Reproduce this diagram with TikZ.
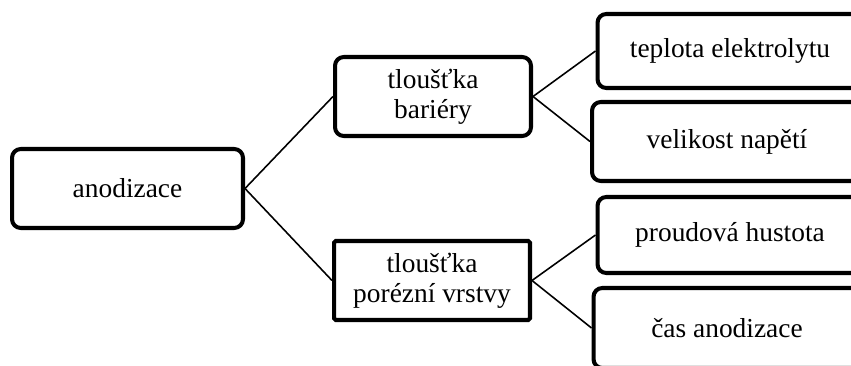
\documentclass[tikz,border=0pt]{standalone}
\usepackage{fontspec}
\setmainfont{Liberation Serif}
\usetikzlibrary{positioning}

\begin{document}
\begin{tikzpicture}[x=0.02cm, y=-0.02cm,
        blok/.style={shape=rectangle, draw=black, line width=2.3pt, rounded corners=5pt,
            align=center, inner sep=0pt, minimum height=1.58cm,
            font=\fontsize{15.6}{17.2}\selectfont},
        spoj/.style={line width=0.9pt}]
        \path[use as bounding box, clip] (0,0) rectangle (851,365);

        \node[blok, minimum width=4.62cm] (anod) at (127.5,188.5) {anodizace};
        \node[blok, minimum width=3.92cm] (bar) at (433,96.5) {tloušťka\\bariéry};
        \node[blok, minimum width=3.92cm, rounded corners=1pt] (por) at (432,280.5) {tloušťka\\porézní vrstvy};

        \node[blok, minimum width=5.3cm, minimum height=1.48cm] (tep) at (730,51) {teplota elektrolytu};
        \node[blok, minimum width=5.4cm] (vel) at (727,141.5) {velikost napětí};
        \node[blok, minimum width=5.3cm, minimum height=1.52cm] (prou) at (730,235) {proudová hustota};
        \node[blok, minimum width=5.34cm, minimum height=1.6cm] (cas) at (727,328) {čas anodizace};

        \draw[spoj] (anod.east) -- (bar.west);
        \draw[spoj] (anod.east) -- (por.west);
        \draw[spoj] (bar.east) -- (tep.west);
        \draw[spoj] (bar.east) -- (vel.west);
        \draw[spoj] (por.east) -- (prou.west);
        \draw[spoj] (por.east) -- (cas.west);

    \end{tikzpicture}
\end{document}
